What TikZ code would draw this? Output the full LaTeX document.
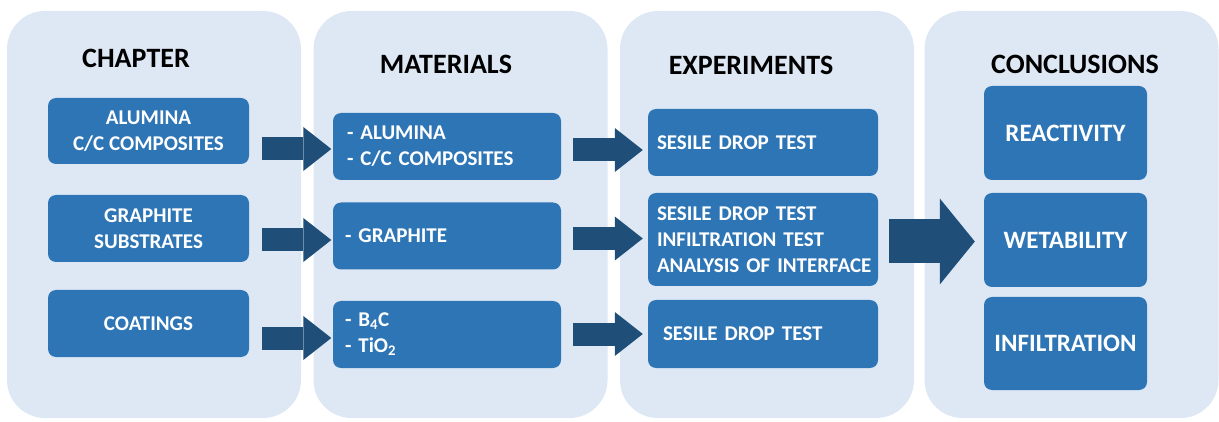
\documentclass[tikz,border=0pt]{standalone}
\usepackage{fontspec}
\setmainfont{Carlito}
\usetikzlibrary{arrows.meta}
\definecolor{panelblue}{HTML}{DDE8F4}
\definecolor{boxblue}{HTML}{2E75B6}
\definecolor{arrowblue}{HTML}{1F4E79}

\begin{document}
\begin{tikzpicture}[x=1pt,y=-1pt,
        panel/.style={fill=panelblue,rounded corners=38pt,minimum width=294pt,minimum height=407pt,inner sep=0pt},
        title/.style={font=\bfseries\fontsize{28}{33}\selectfont},
        box/.style={fill=boxblue,rounded corners=8pt,text=white,inner sep=0pt,
            font=\bfseries\fontsize{21}{26}\selectfont},
        leftbox/.style={box,align=left,minimum height=67pt},
        endbox/.style={box,minimum width=163pt,minimum height=94pt,font=\bfseries\fontsize{25}{30}\selectfont},
        thinarrow/.style={arrowblue,line width=23pt,-{Triangle[length=28pt,width=44pt,line width=0pt]}},
        bigarrow/.style={arrowblue,line width=44pt,-{Triangle[length=35pt,width=86pt,line width=0pt]}}]
        \useasboundingbox (0,0) rectangle (1219,422);
        % panels
        \node[panel] (chapterpanel) at (154,214.5) {};
        \node[panel] (materialpanel) at (460.5,214.5) {};
        \node[panel] (experimentpanel) at (767,214.5) {};
        \node[panel] (conclusionpanel) at (1071.5,214.5) {};
        \node[title] (chaptertitle) at (136,58) {CHAPTER};
        \node[title] (materialtitle) at (446,64) {MATERIALS};
        \node[title] (experimenttitle) at (751,65) {EXPERIMENTS};
        \node[title] (conclusiontitle) at (1075,64) {CONCLUSIONS};
        % chapter
        \node[box,align=center,minimum width=201pt,minimum height=66pt] (alumina) at (148.5,131) {ALUMINA\\C/C COMPOSITES};
        \node[box,align=center,minimum width=201pt,minimum height=67pt] (graphite) at (148.5,228.5) {GRAPHITE\\SUBSTRATES};
        \node[box,align=center,minimum width=201pt,minimum height=67pt] (coatings) at (148.5,323.5) {COATINGS};
        % materials
        \node[leftbox,text width=200pt,inner xsep=14pt] (mat1) at (447,146.5) {- ALUMINA\\- C/C COMPOSITES};
        \node[leftbox,text width=204pt,inner xsep=12pt] (mat2) at (447,236) {- GRAPHITE};
        \node[leftbox,text width=204pt,inner xsep=12pt] (mat3) at (447,334.5) {- B\textsubscript{4}C\\- TiO\textsubscript{2}};
        % experiments
        \node[leftbox,text width=212pt,inner xsep=9pt] (exp1) at (763,142.5) {SESILE DROP TEST};
        \node[leftbox,text width=212pt,inner xsep=9pt,minimum height=93pt] (exp2) at (763,239.5) {SESILE DROP TEST\\INFILTRATION TEST\\\mbox{ANALYSIS OF INTERFACE}};
        \node[leftbox,text width=200pt,inner xsep=15pt,minimum height=68pt] (exp3) at (763,334) {SESILE DROP TEST};
        % conclusions
        \node[endbox] (reactivity) at (1065.5,133) {REACTIVITY};
        \node[endbox] (wetability) at (1065.5,240) {WETABILITY};
        \node[endbox,minimum height=93pt] (infiltration) at (1065.5,343.5) {INFILTRATION};
        % arrows
        \path (alumina.east) ++(13,18) coordinate (a1);
        \path (graphite.east) ++(13,11.5) coordinate (a2);
        \path (coatings.east) ++(13,14.5) coordinate (a3);
        \draw[thinarrow,shorten >=1.5pt] (a1) -- (a1 -| mat1.west);
        \draw[thinarrow,shorten >=1.5pt] (a2) -- (a2 -| mat2.west);
        \draw[thinarrow,shorten >=1.5pt] (a3) -- (a3 -| mat3.west);
        \path (mat1.east) ++(12,3.5) coordinate (b1);
        \path (mat2.east) ++(12,2.5) coordinate (b2);
        \path (mat3.east) ++(12,-0.5) coordinate (b3);
        \draw[thinarrow,shorten >=5pt] (b1) -- (b1 -| exp1.west);
        \draw[thinarrow,shorten >=5pt] (b2) -- (b2 -| exp2.west);
        \draw[thinarrow,shorten >=5pt] (b3) -- (b3 -| exp3.west);
        \path (exp2.east) ++(11,2) coordinate (c2);
        \draw[bigarrow,shorten >=9pt] (c2) -- (c2 -| wetability.west);
\end{tikzpicture}
\end{document}
